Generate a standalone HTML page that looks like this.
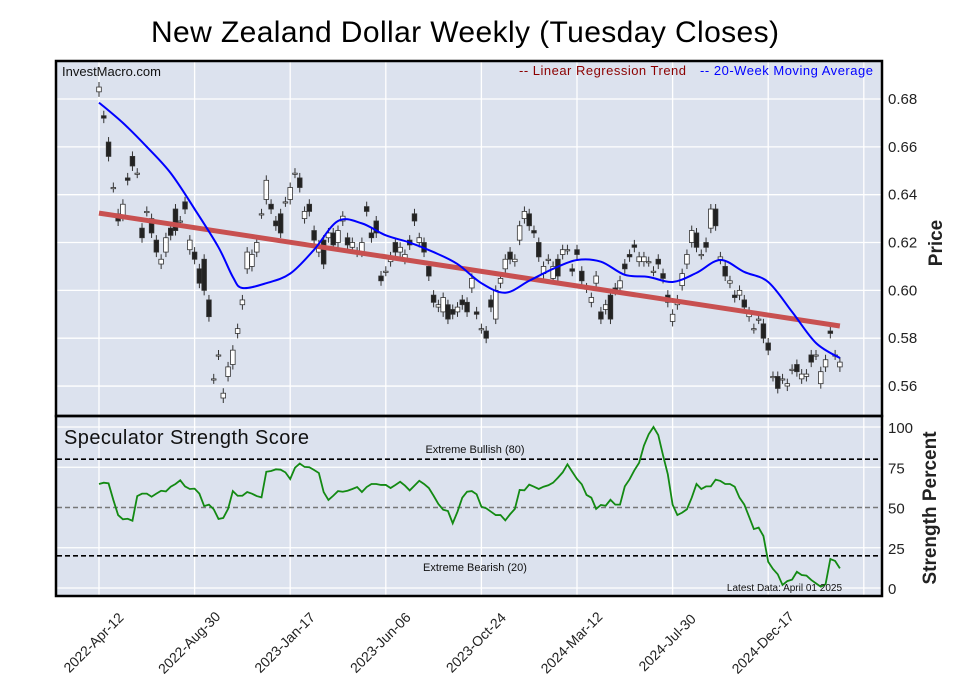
<!DOCTYPE html>
<html><head><meta charset="utf-8">
<style>
html,body{margin:0;padding:0;background:#fff;}
svg{display:block;font-family:"Liberation Sans",sans-serif;}
</style></head>
<body>
<svg id="chart" width="957" height="694" viewBox="0 0 957 694" xmlns="http://www.w3.org/2000/svg">
<text x="465" y="42" text-anchor="middle" font-size="30" textLength="628" fill="#000">New Zealand Dollar Weekly (Tuesday Closes)</text>
<rect x="56" y="61" width="826" height="355" fill="#dce2ee"/>
<rect x="56" y="416" width="826" height="180" fill="#dce2ee"/>
<g id="grid"></g>
<g id="marks"></g>
<rect x="56" y="61" width="826" height="355" fill="none" stroke="#000" stroke-width="2.5"/>
<rect x="56" y="416" width="826" height="180" fill="none" stroke="#000" stroke-width="2.5"/>
<text x="62" y="76" font-size="13" fill="#111">InvestMacro.com</text>
<text x="519" y="75" font-size="13" textLength="167" fill="#8b0000">-- Linear Regression Trend</text>
<text x="700" y="75" font-size="13" textLength="173" fill="#0000ff">-- 20-Week Moving Average</text>
<text x="64" y="444" font-size="20" textLength="245" fill="#111">Speculator Strength Score</text>
<text x="475" y="453" text-anchor="middle" font-size="11" fill="#111">Extreme Bullish (80)</text>
<text x="475" y="571" text-anchor="middle" font-size="11" fill="#111">Extreme Bearish (20)</text>
<text x="842" y="591" text-anchor="end" font-size="10" fill="#111">Latest Data: April 01 2025</text>
<text transform="translate(942,243) rotate(-90)" text-anchor="middle" font-size="19" font-weight="bold" fill="#222">Price</text>
<text transform="translate(936,508) rotate(-90)" text-anchor="middle" font-size="19" font-weight="bold" fill="#222">Strength Percent</text>
<g id="axes"></g>
</svg>
<script>
const priceTicks = [0.56,0.58,0.60,0.62,0.64,0.66,0.68];
const strengthTicks = [0,25,50,75,100];
const dateLabels = ["2022-Apr-12","2022-Aug-30","2023-Jan-17","2023-Jun-06","2023-Oct-24","2024-Mar-12","2024-Jul-30","2024-Dec-17"];
const opens = [.683,.673,.662,.643,.632,.631,.647,.656,.649,.626,.633,.630,.621,.611,.616,.626,.634,.629,.637,.617,.616,.609,.613,.596,.563,.573,.555,.564,.569,.582,.594,.609,.610,.616,.632,.638,.636,.629,.632,.637,.638,.649,.647,.630,.636,.625,.616,.621,.622,.624,
.620,.629,.622,.618,.616,.616,.635,.624,.629,.606,.608,.612,.620,.616,.613,.621,.632,.620,.620,.610,.598,.593,.591,.594,.592,.591,.596,.595,.601,.591,.584,.583,.596,.588,.603,.609,.616,.612,.621,.630,.632,.625,.620,.607,.613,.605,.613,.615,.617,.609,
.617,.608,.601,.595,.603,.591,.592,.598,.601,.601,.611,.615,.619,.612,.612,.612,.608,.613,.607,.598,.587,.594,.602,.611,.620,.624,.615,.620,.626,.634,.613,.610,.603,.598,.598,.596,.589,.584,.588,.586,.578,.564,.564,.563,.560,.567,.569,.563,.564,.573,.573,.561,.568,.583,.573,.568];
const closes = [.685,.672,.656,.643,.629,.636,.646,.652,.649,.622,.633,.624,.616,.613,.622,.623,.625,.629,.634,.621,.613,.603,.600,.589,.563,.573,.557,.568,.575,.584,.596,.616,.615,.620,.632,.646,.634,.627,.624,.637,.643,.649,.643,.633,.633,.621,.619,.611,.624,.619,
.625,.631,.619,.620,.616,.620,.633,.622,.624,.604,.608,.614,.616,.618,.615,.619,.629,.622,.616,.606,.595,.594,.597,.588,.590,.593,.594,.591,.605,.590,.584,.580,.593,.600,.605,.613,.613,.613,.627,.633,.627,.624,.614,.610,.613,.610,.606,.617,.617,.608,
.615,.604,.601,.597,.606,.588,.594,.588,.600,.604,.609,.614,.618,.614,.614,.612,.608,.611,.605,.595,.590,.596,.607,.615,.625,.618,.615,.618,.634,.627,.614,.606,.604,.597,.600,.593,.591,.584,.588,.580,.575,.564,.559,.563,.561,.567,.566,.565,.565,.570,.573,.566,.571,.582,.573,.570];
const maWeeks = [0,5,10,15,20,25,28,30,35,40,45,50,55,60,65,70,75,80,85,90,95,100,105,110,115,120,125,130,135,140,145,150,155];
const maValues = [.6785,.670,.660,.649,.634,.618,.6056,.601,.603,.607,.617,.629,.628,.623,.620,.616,.611,.603,.599,.604,.609,.6127,.612,.6065,.6056,.6035,.6073,.6127,.6077,.6035,.591,.578,.5717];
const trendStart = 0.6323, trendEnd = 0.5851;
const strength = [64.6,65.4,65.0,54.7,45.3,42.7,43.0,41.8,57.1,58.6,58.6,56.7,58.6,60.4,60.0,62.9,64.6,66.9,63.1,61.5,61.7,58.6,50.9,51.8,48.9,42.9,43.5,49.1,60.2,57.3,57.3,59.6,58.6,57.1,56.3,72.2,72.7,73.7,73.5,71.8,67.7,74.7,77.3,75.2,75.0,73.3,71.4,59.6,54.7,57.3,60.2,59.8,60.4,61.5,62.7,59.6,62.7,64.6,64.6,64.0,64.0,62.1,64.0,66.0,63.6,60.6,63.6,66.6,64.6,62.1,57.3,52.2,48.6,47.8,40.2,47.4,56.1,59.8,
60.2,58.2,50.5,49.5,47.4,45.3,45.3,42.0,45.8,49.1,60.9,60.7,64.2,62.9,61.5,62.9,63.8,65.4,68.5,71.8,76.8,72.2,67.7,64.4,57.8,56.1,49.1,51.6,51.1,54.8,51.8,51.8,63.1,67.5,73.1,77.8,88.4,95.5,100,95.0,82.4,70.6,51.8,45.3,46.8,48.9,56.1,64.6,61.5,63.1,63.1,67.3,66.5,64.6,64.6,62.9,56.1,51.8,44.3,36.6,37.5,32.3,16.3,11.8,8.5,1.9,4.3,5.2,10.1,8.1,7.7,5.0,2.9,0.8,2.3,18.0,16.8,12.2];

const NS='http://www.w3.org/2000/svg';
const X0=99, WK=4.78, TICKW=20;
function xw(i){return X0+i*WK;}
function yp(p){return 99+(0.68-p)*2392;}
function ys(v){return 588-v*1.61;}
function mk(tag,attrs,parent){const e=document.createElementNS(NS,tag);for(const k in attrs)e.setAttribute(k,attrs[k]);parent.appendChild(e);return e;}
const grid=document.getElementById('grid'), marks=document.getElementById('marks'), axes=document.getElementById('axes');

dateLabels.forEach((d,k)=>{
  const x=xw(k*TICKW);
  for(const [a,b] of [[62,415],[417,595]]){
    const l=mk('line',{x1:x,x2:x,y1:a,y2:b,stroke:'#fff','stroke-width':1.3},grid);
    
    
  }
  const t=mk('text',{transform:`translate(${x-2},${646}) rotate(-45)`,'text-anchor':'middle','font-size':14,fill:'#222'},axes);
  t.textContent=d;
  
  
});
{const x=xw(8*TICKW);
 for(const [a,b] of [[62,415],[417,595]]){const l=mk('line',{x1:x,x2:x,y1:a,y2:b,stroke:'#fff','stroke-width':1.3},grid);
 
 }}
priceTicks.forEach(p=>{
  const y=yp(p);
  const l=mk('line',{x1:57,x2:881,y1:y,y2:y,stroke:'#fff','stroke-width':1.3},grid);
  
  
  const t=mk('text',{x:888,y:y+5,'font-size':15,fill:'#222'},axes);
  t.textContent=p.toFixed(2);
  
  
});
strengthTicks.forEach(v=>{
  const y=ys(v);
  if(v!==50){const l=mk('line',{x1:57,x2:881,y1:y,y2:y,stroke:'#fff','stroke-width':1.3},grid);
  
  }
  const t=mk('text',{x:888,y:y+6,'font-size':15,fill:'#222'},axes);
  t.textContent=String(v);
  
  
});
[[80,'#000'],[20,'#000'],[50,'#777']].forEach(([v,c])=>{
  const l=mk('line',{x1:57,x2:881,y1:ys(v),y2:ys(v),stroke:c,'stroke-width':1.6,'stroke-dasharray':'5,3'},marks);
  
  
});

closes.forEach((c,i)=>{
  const o=opens[i], x=xw(i);
  const top=yp(Math.max(o,c)), bot=yp(Math.min(o,c));
  const w=mk('line',{x1:x,x2:x,y1:top-5,y2:bot+5,stroke:'#333','stroke-width':1},marks);
  
  
  const b=mk('rect',{x:x-2.3,y:top,width:4.6,height:Math.max(1.2,bot-top),fill:c>=o?'#fff':'#222',stroke:'#333','stroke-width':0.8},marks);
  
  
});
const tr=mk('line',{x1:xw(0),y1:yp(trendStart),x2:xw(closes.length-1),y2:yp(trendEnd),stroke:'#c85050','stroke-width':5},marks);


function smooth(pts){let d=`M${pts[0][0]},${pts[0][1]}`;for(let i=0;i<pts.length-1;i++){const p0=pts[i-1]||pts[i],p1=pts[i],p2=pts[i+1],p3=pts[i+2]||p2;
 d+=` C${p1[0]+(p2[0]-p0[0])/6},${p1[1]+(p2[1]-p0[1])/6} ${p2[0]-(p3[0]-p1[0])/6},${p2[1]-(p3[1]-p1[1])/6} ${p2[0]},${p2[1]}`;}return d;}
const ma=mk('path',{d:smooth(maWeeks.map((w,k)=>[xw(w),yp(maValues[k])])),fill:'none',stroke:'#0000ff','stroke-width':2},marks);


const sl=mk('polyline',{points:strength.map((v,i)=>`${xw(i)},${ys(v)}`).join(' '),fill:'none',stroke:'#138a13','stroke-width':1.8},marks);


</script>
</body></html>
